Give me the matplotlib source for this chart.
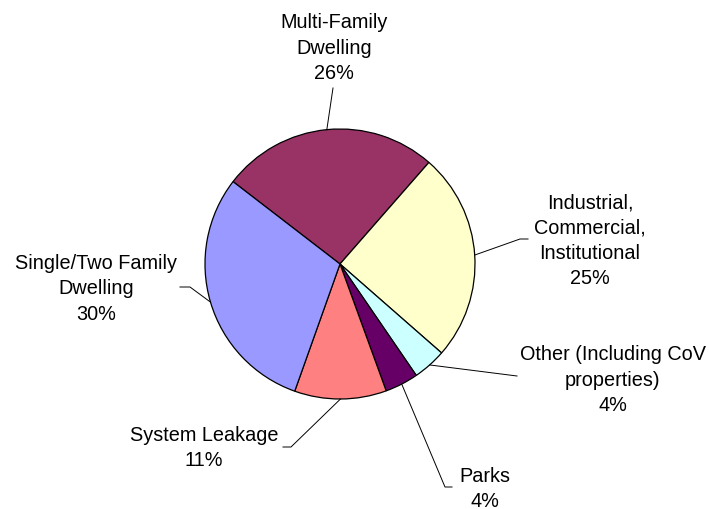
import numpy as np
import matplotlib.pyplot as plt

plt.rcParams['font.family'] = ['Liberation Sans', 'DejaVu Sans']

categories = ["Multi-Family\nDwelling", "Industrial,\nCommercial,\nInstitutional",
              "Other (Including CoV\nproperties)", "Parks", "System Leakage",
              "Single/Two Family\nDwelling"]
shares = [26, 25, 4, 4, 11, 30]
colors = ["#993366", "#FFFFCC", "#CCFFFF", "#660066", "#FF8080", "#9999FF"]

# label block centres and leader elbows (figure pixels, y measured from top)
label_pos = [(334, 48), (590, 241), (613, 380), (485, 489), (204, 448), (96, 289)]
leader_pts = [[(333, 89)],
              [(520, 240), (528, 240)],
              [(517, 377)],
              [(445, 488), (452, 488)],
              [(291, 448), (283, 448)],
              [(190, 288), (180, 288)]]

W, H = 709, 510
fig = plt.figure(figsize=(W / 100, H / 100), dpi=100)
ax = fig.add_axes([0, 0, 1, 1])

cx, cy, r = 340, H - 265, 135
wedges, _ = ax.pie(shares, colors=colors, startangle=142.4, counterclock=False,
                   center=(cx, cy), radius=r, frame=True,
                   wedgeprops=dict(edgecolor='black', linewidth=0.9))
ax.set_xlim(0, W)
ax.set_ylim(0, H)
ax.set_aspect('equal')
ax.axis('off')

for w, name, val, (lx, ly), pts in zip(wedges, categories, shares, label_pos, leader_pts):
    mid = np.deg2rad((w.theta1 + w.theta2) / 2)
    xs = [cx + r * np.cos(mid)] + [p[0] for p in pts]
    ys = [cy + r * np.sin(mid)] + [H - p[1] for p in pts]
    ax.plot(xs, ys, color='black', linewidth=0.7)
    ax.text(lx, H - ly, f"{name}\n{val}%", ha='center', va='center',
            fontsize=14.3, linespacing=1.42, color='black')

fig.savefig("out.png", dpi=100)
